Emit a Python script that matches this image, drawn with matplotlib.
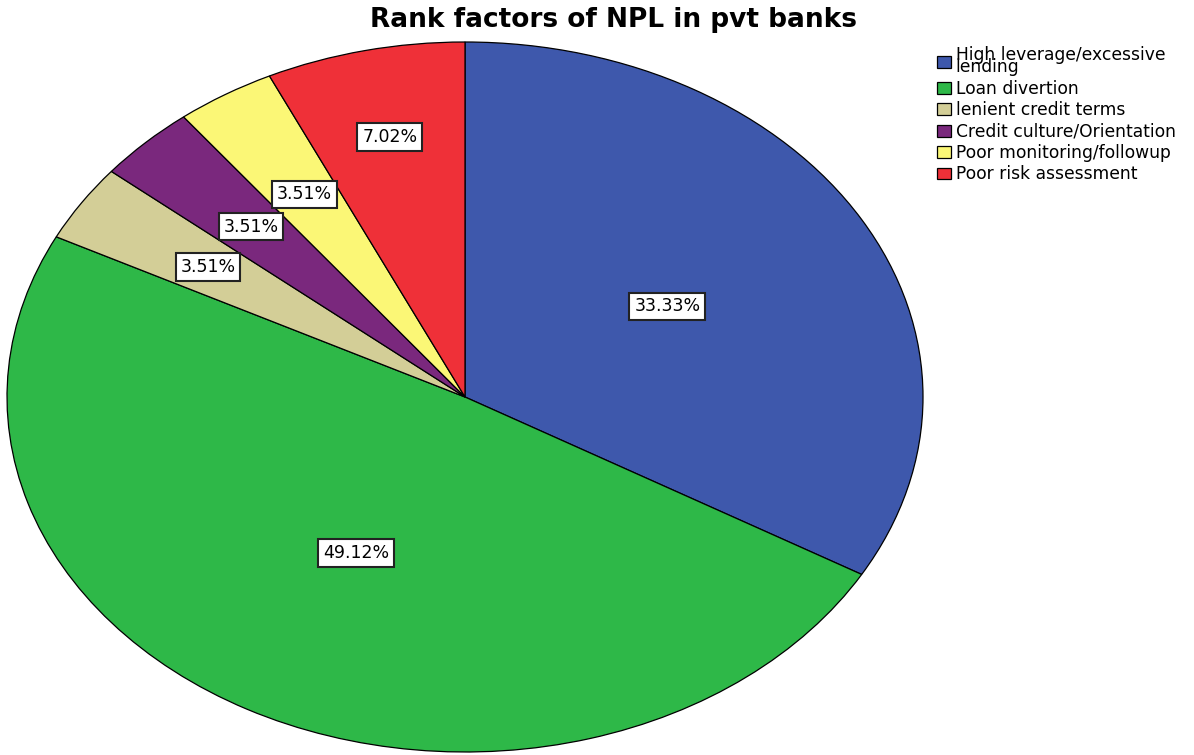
import matplotlib
matplotlib.use("Agg")
import matplotlib.pyplot as plt
import numpy as np

categories = ["High leverage/excessive\nlending", "Loan divertion", "lenient credit terms",
              "Credit culture/Orientation", "Poor monitoring/followup", "Poor risk assessment"]
values = [33.33, 49.12, 3.51, 3.51, 3.51, 7.02]
pct_labels = ["33.33%", "49.12%", "3.51%", "3.51%", "3.51%", "7.02%"]
colors = ["#3e58ac", "#2eb848", "#d3ce97", "#7a287d", "#fbf776", "#ef3038"]
label_dist = [0.51, 0.50, 0.67, 0.67, 0.67, 0.75]

plt.rcParams['font.family'] = ['DejaVu Sans']
W, H = 1194, 755
fig = plt.figure(figsize=(W / 100, H / 100), dpi=100)
cx, cy, rx, ry = 465, 397, 458, 355
ax = fig.add_axes([(cx - rx) / W, (H - cy - ry) / H, 2 * rx / W, 2 * ry / H])
wedges, _ = ax.pie(values, colors=colors, startangle=90, counterclock=False,
                   wedgeprops=dict(edgecolor="black", linewidth=0.9))
ax.set_aspect('auto')
ax.set_xlim(-1, 1)
ax.set_ylim(-1, 1)
ax.axis('off')

for w, lab, d in zip(wedges, pct_labels, label_dist):
    ang = np.deg2rad((w.theta1 + w.theta2) / 2)
    ax.text(d * np.cos(ang), d * np.sin(ang), lab, ha='center', va='center', fontsize=12.5,
            bbox=dict(boxstyle='square,pad=0.28', facecolor='white', edgecolor='#222222', linewidth=1.5))

fig.text(614 / W, 1 - 20 / H, "Rank factors of NPL in pvt banks", ha='center', va='center',
         fontsize=19, fontweight='bold')

leg = fig.legend(wedges, categories, loc='upper left', bbox_to_anchor=(937 / W, 1 - 46 / H),
                 frameon=False, fontsize=12.3, handlelength=0.8, handleheight=0.7,
                 handletextpad=0.3, labelspacing=0.2, borderaxespad=0, borderpad=0)
for t in leg.get_texts():
    t.set_linespacing(0.6)

fig.savefig("out.png", dpi=100)
